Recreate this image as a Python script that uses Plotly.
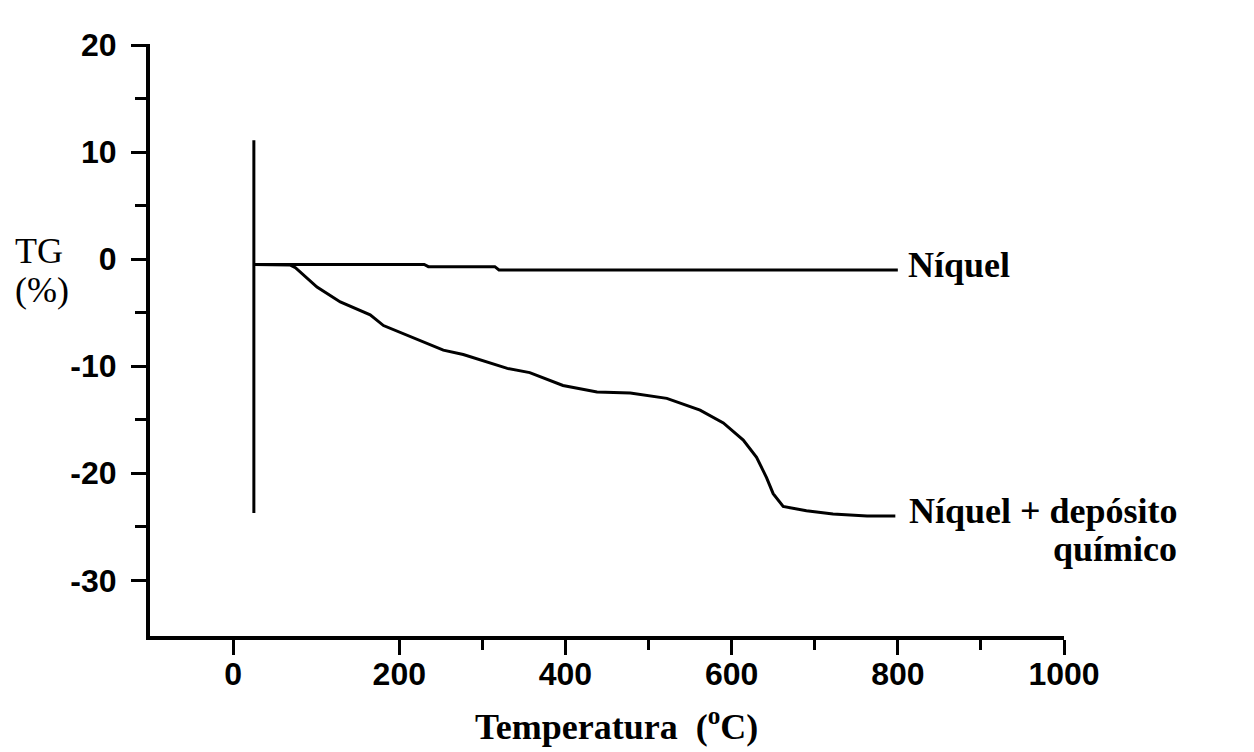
import plotly.graph_objects as go

# Thermogravimetric curves (TG %, vs temperature in °C)
temp_niquel = [25, 230, 235, 315, 320, 800]
tg_niquel = [-0.5, -0.5, -0.7, -0.7, -1.0, -1.0]

temp_deposito = [25, 69, 75, 101, 129, 165, 181, 229, 253, 277, 330, 357, 397,
                 438, 478, 522, 562, 590, 614, 630, 642, 650, 662, 690, 722, 763, 797]
tg_deposito = [-0.5, -0.55, -0.8, -2.6, -4.0, -5.2, -6.2, -7.7, -8.5, -8.9, -10.2, -10.6, -11.8,
               -12.4, -12.5, -13.0, -14.1, -15.3, -16.9, -18.5, -20.4, -21.9, -23.1, -23.5, -23.8, -24.0, -24.0]

# vertical start marker of the run
temp_start = [25, 25]
tg_start = [11.1, -23.7]

x_ticks = [0, 200, 400, 600, 800, 1000]
x_minor = [300, 500, 700, 900]
y_ticks = [20, 10, 0, -10, -20, -30]
y_minor = [15, 5, -5, -15, -25]

label_font = dict(family="Liberation Serif, Times New Roman, serif", size=36, color="black")
tick_font = dict(family="Liberation Sans, Arial, sans-serif", size=32, color="black", weight="bold")

fig = go.Figure()
line_style = dict(color="black", width=3)
fig.add_trace(go.Scatter(x=temp_start, y=tg_start, mode="lines", line=line_style, showlegend=False))
fig.add_trace(go.Scatter(x=temp_niquel, y=tg_niquel, mode="lines", line=line_style, showlegend=False))
fig.add_trace(go.Scatter(x=temp_deposito, y=tg_deposito, mode="lines", line=line_style, showlegend=False))

W, H = 1254, 752
L, R, T, B = 150, 190, 44, 116
pw, ph = W - L - R, H - T - B


def px(x):
    return (x - L) / pw


def py(y):
    return (H - B - y) / ph


def note(text, x, y, anchor="left"):
    return dict(text=text, x=px(x), y=py(y), xref="paper", yref="paper",
                xanchor=anchor, yanchor="middle", showarrow=False, font=label_font)


fig.update_layout(
    width=W, height=H,
    margin=dict(l=L, r=R, t=T, b=B),
    paper_bgcolor="white", plot_bgcolor="white",
    xaxis=dict(
        range=[-100, 1000], tickvals=x_ticks, ticktext=[str(v) for v in x_ticks],
        showgrid=False, zeroline=False, showline=True, linecolor="black", linewidth=4,
        ticks="outside", ticklen=15, tickwidth=3, tickcolor="black",
        tickfont=tick_font, ticklabelstandoff=-8,
        minor=dict(tickvals=x_minor, ticks="outside", ticklen=10, tickwidth=3, tickcolor="black", showgrid=False),
    ),
    yaxis=dict(
        range=[-35.2, 20.1], tickvals=y_ticks, ticktext=[str(v) for v in y_ticks],
        showgrid=False, zeroline=False, showline=True, linecolor="black", linewidth=4,
        ticks="outside", ticklen=15, tickwidth=3, tickcolor="black",
        tickfont=tick_font, ticklabelstandoff=8,
        minor=dict(tickvals=y_minor, ticks="outside", ticklen=11, tickwidth=3, tickcolor="black", showgrid=False),
    ),
    annotations=[
        note("TG", 13, 251),
        note("(%)", 13, 290),
        note("<b>Temperatura&nbsp;&nbsp;(<sup>o</sup>C)</b>", 616, 724, "center"),
        note("<b>Níquel</b>", 906, 265),
        note("<b>Níquel + depósito</b>", 907, 511),
        note("<b>químico</b>", 1179, 549, "right"),
    ],
)

fig.write_html("out.html")
